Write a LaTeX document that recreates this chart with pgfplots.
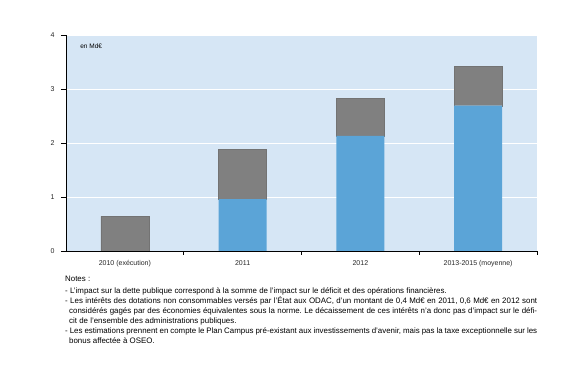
\documentclass[border=0pt]{standalone}
\usepackage{fontspec}
\setmainfont{Liberation Sans}
\usepackage{pgfplots}
\pgfplotsset{compat=1.18}
\frenchspacing
\definecolor{bgblue}{HTML}{D6E6F5}
\definecolor{barblue}{HTML}{5BA4D7}
\definecolor{bargray}{HTML}{808080}
\newcommand{\jline}[1]{\makebox[472pt][s]{#1}}
\newcommand{\iline}[1]{\hspace*{4pt}\makebox[468pt][s]{#1}}
\begin{document}
\begin{tikzpicture}[x=1pt,y=1pt]
\path[use as bounding box] (0,0) rectangle (567,372);
\begin{axis}[
  at={(66pt,121pt)}, anchor=south west,
  width=471pt, height=216pt, scale only axis,
  ybar stacked, bar width=48pt,
  xmin=-0.5, xmax=3.5, ymin=0, ymax=4,
  xtick={0,1,2,3},
  xticklabels={2010 (exécution),2011,2012,2013-2015 (moyenne)},
  major x tick style={draw=none},
  minor xtick={0.5,1.5,2.5,3.5},
  minor tick style={black, line width=0.6pt},
  ytick={0,1,2,3,4},
  axis lines=left, axis line style={-, black, line width=0.6pt},
  tick align=outside, tick pos=left,
  major tick length=5pt, minor tick length=4pt,
  y tick style={black, line width=0.6pt},
  ymajorgrids, grid style={white, line width=0.6pt},
  axis background/.style={fill=bgblue},
  ticklabel style={font=\fontsize{7}{8}\selectfont, text=black!85},
  /pgf/number format/assume math mode=true,
  xticklabel style={yshift=-1pt},
  yticklabel style={xshift=-3pt},
]
\addplot[fill=barblue, draw=none] coordinates {(0,0) (1,0.96) (2,2.13) (3,2.69)};
\addplot[fill=bargray, draw=black!55, line width=0.4pt] coordinates {(0,0.64) (1,0.92) (2,0.70) (3,0.73)};
\node[anchor=west, font=\fontsize{6.5}{7}\selectfont, inner sep=0] at (rel axis cs:0.03,0.949) {en Md€};
\end{axis}
\node[anchor=north west, align=left, inner sep=0, font=\fontsize{7.9}{10}\selectfont] at (65,96) {%
Notes :\\[2pt]
- L’impact sur la dette publique correspond à la somme de l’impact sur le déficit et des opérations financières.\\
\jline{- Les intérêts des dotations non consommables versés par l’État aux ODAC, d’un montant de 0,4 Md€ en 2011, 0,6 Md€ en 2012 sont}\\
\iline{considérés gagés par des économies équivalentes sous la norme. Le décaissement de ces intérêts n’a donc pas d’impact sur le défi-}\\
\hspace*{4pt}cit de l’ensemble des administrations publiques.\\
\jline{- Les estimations prennent en compte le Plan Campus pré-existant aux investissements d’avenir, mais pas la taxe exceptionnelle sur les}\\
\hspace*{4pt}bonus affectée à OSEO.};
\end{tikzpicture}
\end{document}
